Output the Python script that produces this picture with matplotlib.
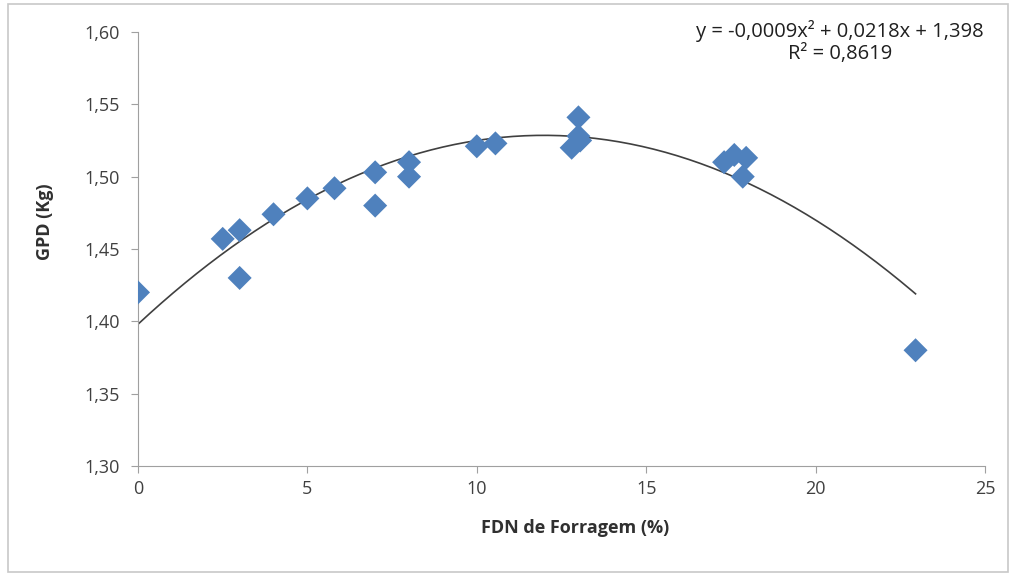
import matplotlib.pyplot as plt
import matplotlib.patches as mpatches
import numpy as np

plt.rcParams['font.family'] = ['Open Sans', 'DejaVu Sans']

# FDN de forragem (%) x GPD (kg)
fdn = [0.0, 2.5, 3.0, 3.0, 4.0, 5.0, 5.8, 7.0, 7.0, 8.0, 8.0, 10.0, 10.55,
       12.8, 13.05, 13.0, 13.0, 17.3, 17.6, 17.95, 17.85, 22.95]
gpd = [1.420, 1.457, 1.463, 1.430, 1.474, 1.485, 1.492, 1.503, 1.480, 1.510, 1.500,
       1.521, 1.523, 1.520, 1.525, 1.528, 1.541, 1.510, 1.515, 1.513, 1.500, 1.380]

# curva de tendencia como aparece no grafico (coeficientes arredondados no rotulo)
coef = [-0.00091, 0.0218, 1.398]
eq_label = 'y = -0,0009x² + 0,0218x + 1,398\nR² = 0,8619'

fig = plt.figure(figsize=(10.13, 5.76), dpi=100)
ax = fig.add_axes([138 / 1013, 1 - 466 / 576, (985 - 138) / 1013, (466 - 32) / 576])

ax.scatter(fdn, gpd, marker='D', s=150, color='#4F81BD', edgecolors='none', zorder=3)

xs = np.linspace(0, max(fdn), 200)
ax.plot(xs, np.polyval(coef, xs), color='#404040', linewidth=1.2, zorder=2)

ax.set_xlim(0, 25)
ax.set_ylim(1.30, 1.60)
ax.set_xticks(range(0, 26, 5))
yt = np.arange(1.30, 1.601, 0.05)
ax.set_yticks(yt)
ax.set_yticklabels([f'{v:.2f}'.replace('.', ',') for v in yt])

for s in ['top', 'right']:
    ax.spines[s].set_visible(False)
for s in ['left', 'bottom']:
    ax.spines[s].set_color('#A0A0A0')
ax.tick_params(colors='#A0A0A0', labelcolor='#404040', labelsize=13, length=5)
ax.tick_params(axis='y', pad=8)
ax.tick_params(axis='x', pad=5)

ax.set_xlabel('FDN de Forragem (%)', fontsize=13, fontweight='bold', color='#303030')
ax.set_ylabel('GPD (Kg)', fontsize=13, fontweight='bold', color='#303030')
ax.xaxis.set_label_coords((575 - 138) / 847, -(519 - 466) / 434)
ax.yaxis.set_label_coords(-(138 - 54) / 847, (466 - 222) / 434)

fig.text(840 / 1013, 1 - 42 / 576, eq_label,
         ha='center', va='center', fontsize=14.5, color='#202020', linespacing=1.2)

# borda da area do grafico
fig.patches.append(mpatches.Rectangle((8 / 1013, 4 / 576), 1000 / 1013, 568 / 576,
                                      transform=fig.transFigure, fill=False,
                                      edgecolor='#C8C8C8', linewidth=1.2))

fig.savefig('out.png', dpi=100)
